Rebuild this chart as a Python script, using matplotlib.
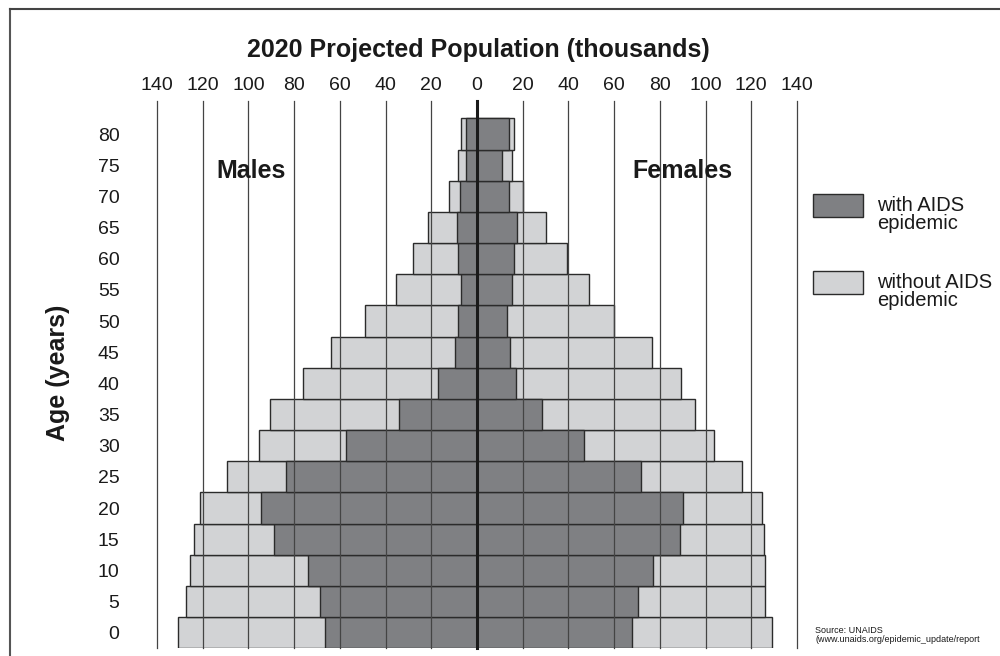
import matplotlib.pyplot as plt
from matplotlib.patches import Rectangle
from matplotlib.lines import Line2D

plt.rcParams['font.family'] = ['Liberation Sans', 'DejaVu Sans']

# age groups (lower bound of each 5-year band)
ages = [0, 5, 10, 15, 20, 25, 30, 35, 40, 45, 50, 55, 60, 65, 70, 75, 80]

# population in thousands
male_without = [130.7, 127.4, 125.6, 124.0, 121.3, 109.5, 95.5, 90.4, 76.3, 63.8, 48.9, 35.5, 28.1, 21.5, 12.1, 8.3, 6.9]
male_with = [66.7, 68.9, 74.1, 88.6, 94.6, 83.7, 57.1, 34.1, 16.9, 9.5, 8.3, 6.9, 8.3, 8.7, 7.6, 4.7, 4.7]
female_without = [129.1, 126.2, 126.2, 125.5, 124.9, 116.1, 103.6, 95.4, 89.4, 76.5, 59.9, 49.0, 39.4, 30.1, 20.1, 15.4, 16.2]
female_with = [68.0, 70.6, 76.8, 88.8, 90.3, 71.9, 46.8, 28.3, 17.2, 14.5, 13.0, 15.5, 16.2, 17.7, 13.8, 10.9, 13.8]

x_ticks = [-140, -120, -100, -80, -60, -40, -20, 0, 20, 40, 60, 80, 100, 120, 140]

light = '#d2d3d5'
dark = '#7f8083'
edge = '#2b2b2b'

W, H = 1000, 656
fig = plt.figure(figsize=(10, 6.56), dpi=100)

# axes placed in pixel terms
left_px, right_px = 157, 797
top_px, bottom_px = 101, 648.3
ax = fig.add_axes([left_px / W, (H - bottom_px) / H, (right_px - left_px) / W, (bottom_px - top_px) / H])

# bars: without AIDS behind, with AIDS on top
ax.barh(ages, [-v for v in male_without], height=5, color=light, edgecolor=edge, linewidth=1, zorder=1)
ax.barh(ages, female_without, height=5, color=light, edgecolor=edge, linewidth=1, zorder=1)
ax.barh(ages, [-v for v in male_with], height=5, color=dark, edgecolor=edge, linewidth=1, zorder=2)
ax.barh(ages, female_with, height=5, color=dark, edgecolor=edge, linewidth=1, zorder=2)

ax.set_xlim(-140, 140)
ax.set_ylim(-2.5, 85.3)

# vertical grid lines over the bars
for t in x_ticks:
    if t == 0:
        continue
    ax.axvline(t, color='#444444', linewidth=0.9, zorder=3, clip_on=False)
ax.axvline(0, color='#1a1a1a', linewidth=2.2, zorder=4, clip_on=False)

for s in ax.spines.values():
    s.set_visible(False)

ax.xaxis.tick_top()
ax.set_xticks(x_ticks)
ax.set_xticklabels([str(abs(t)) for t in x_ticks])
ax.tick_params(axis='x', length=0, pad=5, labelsize=14, colors='#1a1a1a')
ax.set_yticks(ages)
ax.set_yticklabels([str(a) for a in ages])
ax.tick_params(axis='y', length=0, pad=27, labelsize=14, colors='#1a1a1a')

ax.text(-99, 74, 'Males', fontsize=18, fontweight='bold', ha='center', va='center', color='#1a1a1a')
ax.text(90, 74, 'Females', fontsize=18, fontweight='bold', ha='center', va='center', color='#1a1a1a')

# title and y label
fig.text(478 / W, (H - 50) / H, '2020 Projected Population (thousands)', fontsize=18,
         fontweight='bold', ha='center', va='center', color='#1a1a1a')
fig.text(58 / W, (H - 373) / H, 'Age (years)', fontsize=18, fontweight='bold', rotation=90,
         ha='center', va='center', color='#1a1a1a')

# legend
fig.add_artist(Rectangle((813 / W, (H - 217) / H), 50 / W, 23 / H, transform=fig.transFigure,
                         facecolor=dark, edgecolor=edge, linewidth=1))
fig.add_artist(Rectangle((813 / W, (H - 294) / H), 50 / W, 23 / H, transform=fig.transFigure,
                         facecolor=light, edgecolor=edge, linewidth=1))
fig.text(877 / W, (H - 196) / H, 'with AIDS\nepidemic', fontsize=14.5, ha='left', va='top',
         linespacing=0.95, color='#1a1a1a')
fig.text(877 / W, (H - 273) / H, 'without AIDS\nepidemic', fontsize=14.5, ha='left', va='top',
         linespacing=0.95, color='#1a1a1a')

# source note
fig.text(815 / W, (H - 626) / H, 'Source: UNAIDS\n(www.unaids.org/epidemic_update/report',
         fontsize=6.5, ha='left', va='top', linespacing=1.0, color='#1a1a1a')

# outer frame (top and left edges)
fig.add_artist(Line2D([10 / W, 10 / W], [0, (H - 9) / H], transform=fig.transFigure, color='#555555', linewidth=1.5))
fig.add_artist(Line2D([10 / W, 1], [(H - 9) / H, (H - 9) / H], transform=fig.transFigure, color='#444444', linewidth=1.5))

fig.savefig('out.png', dpi=100)
